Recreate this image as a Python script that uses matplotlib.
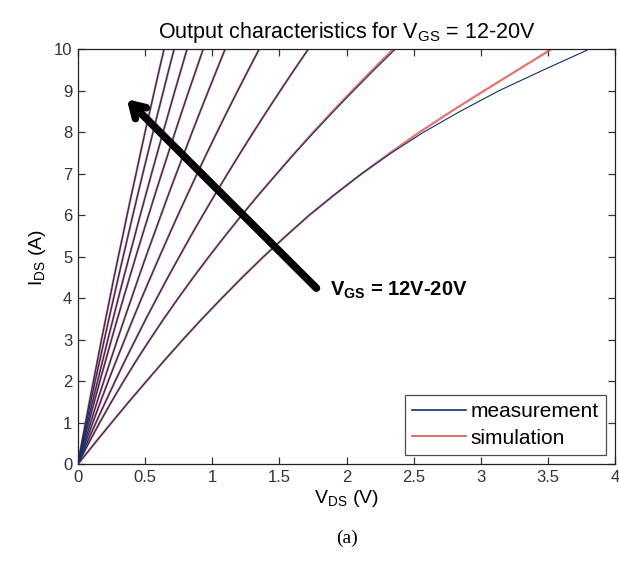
import matplotlib
matplotlib.use("Agg")
import matplotlib.pyplot as plt

plt.rcParams["font.family"] = ["Liberation Sans", "DejaVu Sans"]
plt.rcParams["mathtext.fontset"] = "custom"
plt.rcParams["mathtext.rm"] = "Liberation Sans"
plt.rcParams["mathtext.it"] = "Liberation Sans:italic"
plt.rcParams["mathtext.bf"] = "Liberation Sans:bold"

# drain current levels (A) at which V_DS was read for each curve
ids_levels = [0, 0.5, 1, 1.5, 2, 2.5, 3, 3.5, 4, 4.5, 5,
              5.5, 6, 6.5, 7, 7.5, 8, 8.5, 9, 9.5, 10]

# gate voltages, top-left curve first
vgs_values = [20, 19, 18, 17, 16, 15, 14, 13, 12]

# V_DS (V) for every curve at the current levels above
vds_measured = [
    [0, .028, .057, .086, .116, .146, .176, .207, .238, .269, .301,
     .334, .366, .399, .433, .466, .500, .535, .570, .605, .641],
    [0, .032, .064, .096, .129, .163, .197, .231, .266, .301, .337,
     .373, .409, .446, .483, .521, .559, .598, .637, .676, .716],
    [0, .036, .072, .109, .147, .185, .223, .262, .301, .341, .382,
     .423, .464, .506, .548, .591, .634, .678, .722, .767, .812],
    [0, .040, .081, .122, .164, .207, .250, .294, .339, .385, .431,
     .478, .526, .574, .623, .673, .723, .774, .826, .879, .932],
    [0, .047, .095, .143, .193, .243, .294, .346, .399, .452, .506,
     .562, .618, .674, .732, .791, .850, .910, .971, 1.033, 1.095],
    [0, .055, .111, .168, .226, .286, .348, .410, .474, .540, .607,
     .675, .744, .815, .887, .960, 1.035, 1.111, 1.189, 1.268, 1.348],
    [0, .066, .134, .205, .277, .351, .428, .506, .587, .669, .754,
     .840, .929, 1.020, 1.113, 1.208, 1.305, 1.404, 1.505, 1.608, 1.713],
    [0, .079, .162, .249, .340, .435, .535, .638, .746, .858, .974,
     1.094, 1.218, 1.346, 1.479, 1.615, 1.756, 1.901, 2.050, 2.203, 2.360],
    [0, .124, .250, .378, .510, .643, .780, .922, 1.070, 1.222, 1.380,
     1.547, 1.720, 1.910, 2.110, 2.330, 2.570, 2.840, 3.130, 3.460, 3.800],
]
vds_simulated = [
    [0, .028, .057, .086, .116, .146, .176, .207, .238, .269, .301,
     .334, .366, .399, .433, .466, .500, .535, .570, .605, .641],
    [0, .032, .064, .096, .129, .163, .197, .231, .266, .301, .337,
     .373, .409, .446, .483, .521, .559, .598, .637, .676, .716],
    [0, .036, .072, .109, .147, .185, .223, .262, .301, .341, .382,
     .423, .464, .506, .548, .591, .634, .678, .722, .767, .812],
    [0, .040, .081, .122, .164, .207, .250, .294, .339, .385, .431,
     .478, .526, .574, .623, .673, .723, .774, .826, .879, .932],
    [0, .047, .095, .143, .193, .243, .294, .346, .399, .452, .506,
     .562, .618, .674, .732, .791, .850, .910, .971, 1.033, 1.095],
    [0, .055, .111, .168, .226, .286, .348, .410, .474, .540, .607,
     .675, .744, .815, .887, .960, 1.035, 1.111, 1.189, 1.268, 1.348],
    [0, .066, .134, .205, .277, .351, .428, .506, .587, .669, .754,
     .840, .929, 1.020, 1.113, 1.208, 1.305, 1.404, 1.505, 1.608, 1.713],
    [0, .079, .162, .249, .340, .435, .535, .638, .746, .858, .974,
     1.094, 1.218, 1.346, 1.479, 1.612, 1.750, 1.893, 2.040, 2.190, 2.345],
    [0, .124, .250, .378, .510, .643, .780, .922, 1.070, 1.222, 1.380,
     1.547, 1.720, 1.910, 2.110, 2.320, 2.540, 2.775, 3.020, 3.270, 3.520],
]

x_ticks = [0, 0.5, 1, 1.5, 2, 2.5, 3, 3.5, 4]
x_tick_labels = ["0", "0.5", "1", "1.5", "2", "2.5", "3", "3.5", "4"]
y_ticks = list(range(0, 11))

meas_color = "#0d2f6e"
sim_color = "#e0504a"

fig = plt.figure(figsize=(6.19, 5.63), dpi=100)
ax = fig.add_axes([0.1257, 0.1753, 0.8685, 0.7368])

for i, vgs in enumerate(vgs_values):
    ax.plot(vds_simulated[i], ids_levels, color=sim_color, lw=1.6, alpha=0.8,
            label="simulation" if i == 0 else None, zorder=2)
    ax.plot(vds_measured[i], ids_levels, color=meas_color, lw=0.8,
            label="measurement" if i == 0 else None, zorder=3)

ax.set_xlim(0, 4)
ax.set_ylim(0, 10)
ax.set_xticks(x_ticks)
ax.set_xticklabels(x_tick_labels)
ax.set_yticks(y_ticks)
ax.tick_params(direction="in", length=5, width=0.9, top=True, right=True,
               labelsize=12, colors="#333333", pad=4)
for spine in ax.spines.values():
    spine.set_linewidth(0.9)
    spine.set_color("#222222")

ax.set_title(r"Output characteristics for V$_{\mathrm{GS}}$ = 12-20V",
             fontsize=15.5, pad=8)
ax.set_xlabel(r"V$_{\mathrm{DS}}$ (V)", fontsize=14, labelpad=2)
ax.set_ylabel(r"I$_{\mathrm{DS}}$ (A)", fontsize=14, labelpad=4)

handles, labels = ax.get_legend_handles_labels()
leg = ax.legend(handles[::-1], labels[::-1], loc="lower right", fontsize=15,
                frameon=True, fancybox=False, edgecolor="#222222",
                handlelength=2.6, handletextpad=0.2, borderpad=0.35,
                labelspacing=0.35, borderaxespad=0.45)
leg.get_frame().set_linewidth(0.9)
for line in leg.get_lines():
    line.set_linewidth(1.2)
    line.set_alpha(1)

ax.annotate("", xy=(0.35, 8.85), xytext=(1.79, 4.2),
            arrowprops=dict(arrowstyle="->,head_length=0.9,head_width=0.55",
                            lw=5.5, color="black", capstyle="round"),
            zorder=5)
ax.text(1.88, 4.2, r"$\mathbf{V_{GS}}$ = 12V-20V", fontsize=14.5,
        fontweight="bold", va="center", ha="left", zorder=6)

fig.text(0.56, 0.044, "(a)", fontsize=14, family="Liberation Serif",
         ha="center", va="center")

fig.savefig("out.png", dpi=100)
